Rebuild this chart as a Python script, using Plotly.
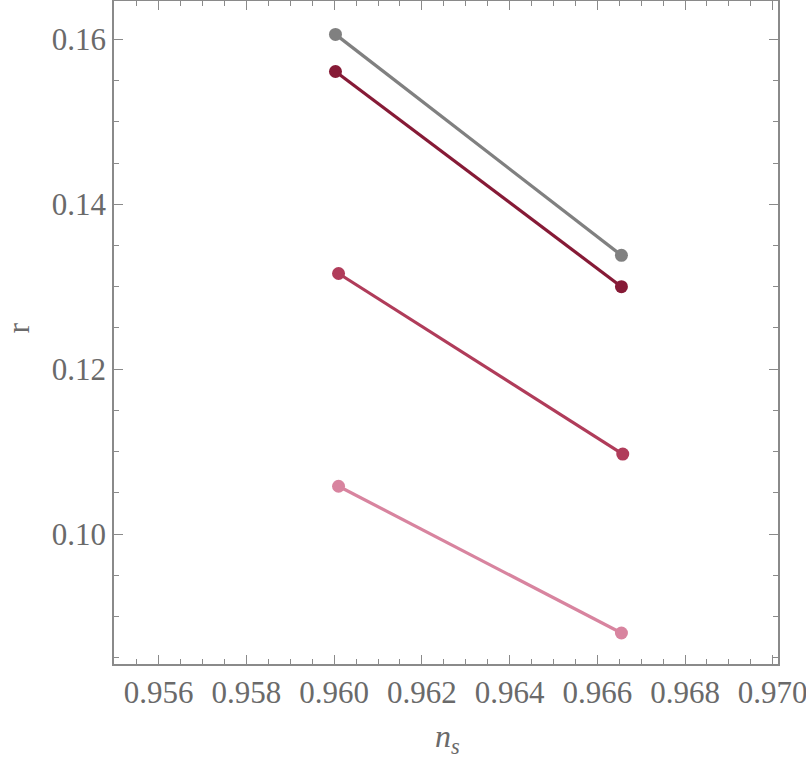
import plotly.graph_objects as go

# n_s values at the two ends of each segment
ns_start = [0.96003, 0.96003, 0.9601, 0.9601]
ns_end = [0.96655, 0.96655, 0.96658, 0.96655]
# r values
r_start = [0.1606, 0.1561, 0.1316, 0.1058]
r_end = [0.1338, 0.1300, 0.1097, 0.0880]
colors = ["#808080", "#861a36", "#b03c5a", "#d8849f"]

x_ticks = [0.956, 0.958, 0.960, 0.962, 0.964, 0.966, 0.968, 0.970]
y_ticks = [0.10, 0.12, 0.14, 0.16]

fig = go.Figure()
for x0, x1, y0, y1, c in zip(ns_start, ns_end, r_start, r_end, colors):
    fig.add_trace(go.Scatter(
        x=[x0, x1], y=[y0, y1],
        mode="lines+markers",
        line=dict(color=c, width=3.2),
        marker=dict(color=c, size=13),
        showlegend=False,
    ))

font = dict(family="Liberation Serif", size=31, color="#6a6a6a")
frame = dict(
    showline=True, linecolor="#8a8a8a", linewidth=1.5, mirror="allticks",
    ticks="inside", ticklen=9, tickwidth=1.2, tickcolor="#8a8a8a",
    showgrid=False, zeroline=False, tickfont=font, automargin=False,
    ticklabeloverflow="allow",
)

fig.update_xaxes(
    range=[0.95498, 0.97012], tickvals=x_ticks, ticktext=[f"{v:.3f}" for v in x_ticks],
    minor=dict(dtick=0.0005, tick0=0.955, ticks="inside", ticklen=5, tickcolor="#8a8a8a"),
    **frame,
)
fig.update_yaxes(
    range=[0.08424, 0.16465], tickvals=y_ticks, ticktext=[f"{v:.2f}" for v in y_ticks],
    minor=dict(dtick=0.005, tick0=0.085, ticks="inside", ticklen=5, tickcolor="#8a8a8a"),
    **frame,
)

# axis titles placed as annotations
fig.add_annotation(text="<i>n</i><sub><i>s</i></sub>", xref="paper", yref="paper",
                   x=0.502, y=-0.113, xanchor="center", yanchor="middle",
                   showarrow=False, font=dict(family="Liberation Serif", size=32, color="#6a6a6a"))
fig.add_annotation(text="r", xref="paper", yref="paper", textangle=-90,
                   x=-0.146, y=0.506, xanchor="center", yanchor="middle",
                   showarrow=False, font=dict(family="Liberation Serif", size=32, color="#6a6a6a"))

fig.update_layout(
    width=806, height=759,
    margin=dict(l=114, r=28, t=1, b=95),
    plot_bgcolor="white", paper_bgcolor="white",
)
fig.write_html("out.html", config={"displayModeBar": False},
               post_script="document.body.style.margin='0px';")
